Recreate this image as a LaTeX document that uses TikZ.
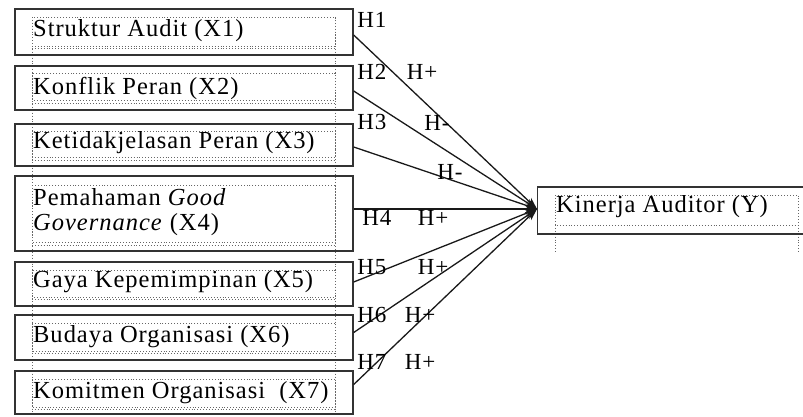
\documentclass[tikz,border=0pt]{standalone}
\usepackage{fontspec}
\setmainfont{Liberation Serif}[LetterSpace=4]
\usetikzlibrary{arrows.meta,calc}
\begin{document}
\begin{tikzpicture}[x=1pt,y=-1pt,
  box/.style={draw=black!80,line width=1.4pt,minimum width=338pt,inner sep=0pt},
  txt/.style={anchor=west,inner sep=0pt,text=black,font=\fontsize{24.5}{30}\selectfont},
  lab/.style={inner sep=0pt,text=black,font=\fontsize{23}{26}\selectfont},
  dots/.style={draw=black!60,dotted,line width=0.9pt},
  conn/.style={line width=1.3pt,draw=black!90,-{Stealth[length=12pt,width=8pt]}}]
\useasboundingbox (0,0) rectangle (803,416);
\fill[white] (0,0) rectangle (803,416);
% dotted text frames
\draw[dots] (32,17) -- (32,416);
\draw[dots] (335,17) -- (335,416);
\foreach \a/\b in {17/46,73/100,131/157,185/242,270/297,323/351,379/407}{
  \draw[dots] (32,\a) rectangle (335,\b);
}
\draw[dots] (32,48) -- (335,48);
\draw[dots] (32,103) -- (335,103);
\draw[dots] (32,160) -- (335,160);
\draw[dots] (32,245) -- (335,245);
\draw[dots] (32,299) -- (335,299);
\draw[dots] (32,353) -- (335,353);
\draw[dots] (32,409) -- (335,409);
% left boxes
\node[box,minimum height=46pt] (x1) at (184,32) {};
\node[box,minimum height=44pt] (x2) at (184,88) {};
\node[box,minimum height=42pt] (x3) at (184,145) {};
\node[box,minimum height=75pt] (x4) at (184,213.5) {};
\node[box,minimum height=44pt] (x5) at (184,284) {};
\node[box,minimum height=45pt] (x6) at (184,337.5) {};
\node[box,minimum height=43pt] (x7) at (184,392.5) {};
% texts
\node[txt] (t1) at (33,31) {Struktur Audit (X1)};
\node[txt] (t2) at (33,88) {Konflik Peran (X2)};
\node[txt] (t3) at (33,143) {Ketidakjelasan Peran (X3)};
\node[txt] (t4a) at (33,197) {Pemahaman \textit{Good}};
\node[txt] (t4b) at (33,225) {\textit{Governance} (X4)};
\node[txt] (t5) at (33,282) {Gaya Kepemimpinan (X5)};
\node[txt] (t6) at (33,337) {Budaya Organisasi (X6)};
\node[txt] (t7) at (33,393) {Komitmen Organisasi \ (X7)};
% right box
\draw[dots] (555,195) rectangle (798,225);
\draw[dots] (555,225) -- (555,252);
\draw[dots] (798,225) -- (798,252);
\node[box,minimum width=280pt,minimum height=47pt,anchor=west] (y) at (537,210.5) {};
\node[txt] (ty) at (556,207) {Kinerja Auditor (Y)};
\coordinate (tip) at (537,209);
% connectors
\draw[conn] ([yshift=-3pt]x1.east) -- (tip);
\draw[conn] ([yshift=-3pt]x2.east) -- (tip);
\draw[conn] ([yshift=-2pt]x3.east) -- (tip);
\draw[conn] (x4.east |- tip) -- (tip);
\draw[conn] ([yshift=2pt]x5.east) -- (tip);
\draw[conn] ([yshift=5pt]x6.east) -- (tip);
\draw[conn] ([yshift=8pt]x7.east) -- (tip);
% labels
\node[lab] (h1) at (372,20) {H1};
\node[lab] (h2) at (372,72) {H2};
\node[lab] (p2) at (422,72) {H+};
\node[lab] (h3) at (372,122) {H3};
\node[lab] (m3) at (437,123) {H-};
\node[lab] (m3b) at (450,172) {H-};
\node[lab] (h4) at (377,218) {H4};
\node[lab] (p4) at (433,218) {H+};
\node[lab] (h5) at (372,267) {H5};
\node[lab] (p5) at (433,267) {H+};
\node[lab] (h6) at (372,315) {H6};
\node[lab] (p6) at (420,315) {H+};
\node[lab] (h7) at (372,362) {H7};
\node[lab] (p7) at (420,362) {H+};
\end{tikzpicture}
\end{document}
